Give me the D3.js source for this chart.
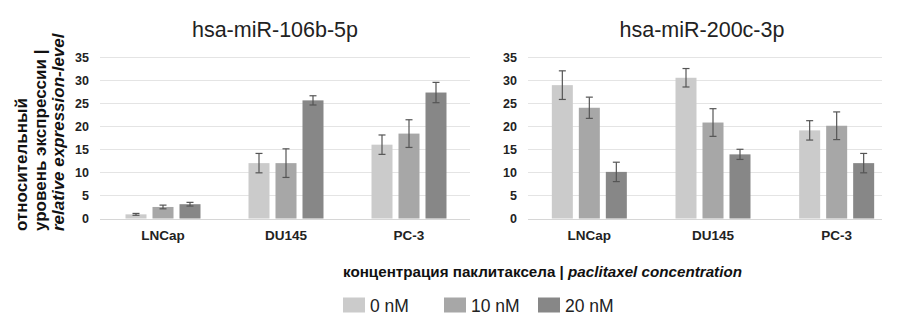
<!DOCTYPE html>
<html>
<head>
<meta charset="utf-8">
<script src="https://cdn.jsdelivr.net/npm/d3@7"></script>
<style>
  html, body { margin: 0; padding: 0; background: #fff; }
  svg { display: block; font-family: "Liberation Sans", Arial, sans-serif; }
</style>
</head>
<body>
<svg id="chart" width="900" height="325"></svg>
<script>
// ---- data ----
const categories = ["LNCap", "DU145", "PC-3"];
const seriesNames = ["0 nM", "10 nM", "20 nM"];
const seriesColors = ["#cbcbcb", "#a7a7a7", "#878787"];
const yTicks = [0, 5, 10, 15, 20, 25, 30, 35];

// hsa-miR-106b-5p
const mir106_0nM  = [0.9, 12.0, 16.0];
const mir106_10nM = [2.5, 12.0, 18.4];
const mir106_20nM = [3.1, 25.6, 27.3];
const mir106_0nM_err  = [0.2, 2.1, 2.1];
const mir106_10nM_err = [0.4, 3.1, 3.0];
const mir106_20nM_err = [0.4, 1.0, 2.2];

// hsa-miR-200c-3p
const mir200_0nM  = [28.9, 30.5, 19.1];
const mir200_10nM = [24.0, 20.8, 20.1];
const mir200_20nM = [10.1, 13.9, 12.0];
const mir200_0nM_err  = [3.1, 2.0, 2.1];
const mir200_10nM_err = [2.3, 3.0, 3.0];
const mir200_20nM_err = [2.1, 1.1, 2.1];

const panels = [
  { title: "hsa-miR-106b-5p",
    values: [mir106_0nM, mir106_10nM, mir106_20nM],
    errors: [mir106_0nM_err, mir106_10nM_err, mir106_20nM_err],
    band: [101.5, 470.5], grid: [100, 470], tickX: 89, titleX: 275 },
  { title: "hsa-miR-200c-3p",
    values: [mir200_0nM, mir200_10nM, mir200_20nM],
    errors: [mir200_0nM_err, mir200_10nM_err, mir200_20nM_err],
    band: [527.5, 898.5], grid: [528, 882], tickX: 517, titleX: 702 }
];

const svg = d3.select("#chart");
const y = d3.scaleLinear().domain([0, 35]).range([218.5, 57]);
const groupW = 75;

panels.forEach(p => {
  const g = svg.append("g");
  const x0 = d3.scaleBand().domain(categories).range(p.band).padding(0);
  const x1 = d3.scaleBand().domain(seriesNames).range([0, groupW]).paddingInner(0.222).paddingOuter(0);

  // gridlines
  g.selectAll("line.grid").data(yTicks).join("line")
    .attr("x1", p.grid[0]).attr("x2", p.grid[1])
    .attr("y1", d => Math.round(y(d)) + 0.5).attr("y2", d => Math.round(y(d)) + 0.5)
    .attr("stroke", d => d === 0 ? "#d6d6d6" : "#e4e4e4").attr("stroke-width", 1);

  // y tick labels
  g.selectAll("text.ytick").data(yTicks).join("text")
    .attr("x", p.tickX).attr("y", d => y(d))
    .attr("dy", "0.36em")
    .attr("text-anchor", "end")
    .attr("font-weight", "bold").attr("font-size", 12.5)
    .attr("fill", "#222")
    .text(d => d);

  // bars
  const barData = [];
  categories.forEach((c, ci) => {
    seriesNames.forEach((s, si) => {
      barData.push({ c, s, si, v: p.values[si][ci], e: p.errors[si][ci] });
    });
  });
  const bx = d => x0(d.c) + (x0.bandwidth() - groupW) / 2 + x1(d.s);

  g.selectAll("rect.bar").data(barData).join("rect")
    .attr("x", bx)
    .attr("y", d => y(d.v))
    .attr("width", x1.bandwidth())
    .attr("height", d => y(0) - y(d.v))
    .attr("fill", d => seriesColors[d.si]);

  // error bars
  const eg = g.selectAll("g.err").data(barData).join("g")
    .attr("stroke", "#555").attr("stroke-width", 1.2);
  eg.append("line")
    .attr("x1", d => bx(d) + x1.bandwidth() / 2).attr("x2", d => bx(d) + x1.bandwidth() / 2)
    .attr("y1", d => y(d.v + d.e)).attr("y2", d => y(Math.max(0, d.v - d.e)));
  eg.append("line")
    .attr("x1", d => bx(d) + x1.bandwidth() / 2 - 3.5).attr("x2", d => bx(d) + x1.bandwidth() / 2 + 3.5)
    .attr("y1", d => y(d.v + d.e)).attr("y2", d => y(d.v + d.e));
  eg.append("line")
    .attr("x1", d => bx(d) + x1.bandwidth() / 2 - 3.5).attr("x2", d => bx(d) + x1.bandwidth() / 2 + 3.5)
    .attr("y1", d => y(Math.max(0, d.v - d.e))).attr("y2", d => y(Math.max(0, d.v - d.e)));

  // category labels
  g.selectAll("text.cat").data(categories).join("text")
    .attr("x", d => x0(d) + x0.bandwidth() / 2)
    .attr("y", 240)
    .attr("text-anchor", "middle")
    .attr("font-weight", "bold").attr("font-size", 13.5)
    .attr("fill", "#222")
    .text(d => d);

  // title
  g.append("text")
    .attr("x", p.titleX).attr("y", 37)
    .attr("text-anchor", "middle")
    .attr("font-size", 21.5)
    .attr("fill", "#222")
    .text(p.title);
});

// y axis title (three rotated lines)
const yTitleLines = [
  { t: "относительный", x: 27, italic: false },
  { t: "уровень экспрессии |", x: 45.5, italic: false },
  { t: "relative expression-level", x: 64, italic: true }
];
svg.selectAll("text.ytitle").data(yTitleLines).join("text")
  .attr("transform", d => `translate(${d.x},231) rotate(-90)`)
  .attr("text-anchor", "start")
  .attr("font-weight", "bold")
  .attr("font-style", d => d.italic ? "italic" : "normal")
  .attr("font-size", 17)
  .attr("fill", "#111")
  .text(d => d.t);

// legend title
const lt = svg.append("text")
  .attr("x", 343).attr("y", 277)
  .attr("font-weight", "bold").attr("font-size", 15.2).attr("fill", "#111");
lt.append("tspan").text("концентрация паклитаксела | ");
lt.append("tspan").attr("font-style", "italic").text("paclitaxel concentration");

// legend items
const legendX = [343, 444, 538];
const lg = svg.selectAll("g.leg").data(seriesNames).join("g")
  .attr("transform", (d, i) => `translate(${legendX[i]},0)`);
lg.append("rect")
  .attr("x", 0).attr("y", 297.5).attr("width", 22).attr("height", 15)
  .attr("fill", (d, i) => seriesColors[i]);
lg.append("text")
  .attr("x", 27).attr("y", 311.5)
  .attr("font-size", 17.5).attr("fill", "#222")
  .text(d => d);
</script>
</body>
</html>
